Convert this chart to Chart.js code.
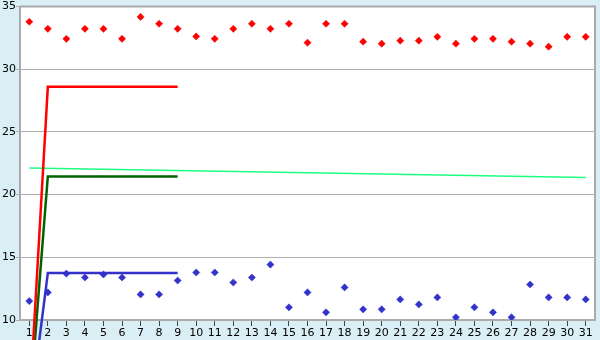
<!DOCTYPE html>
<html>
<head>
<meta charset="utf-8">
<script src="https://cdn.jsdelivr.net/npm/chart.js@4/dist/chart.umd.min.js"></script>
<style>
html,body{margin:0;padding:0;background:#d9eef5;}
#wrap{width:600px;height:340px;position:relative;}
</style>
</head>
<body>
<div id="wrap"><canvas id="c" width="600" height="340"></canvas></div>
<script>
// Days of the month (x categories)
const days = [1,2,3,4,5,6,7,8,9,10,11,12,13,14,15,16,17,18,19,20,21,22,23,24,25,26,27,28,29,30,31];
// Upper (red) point series
const redPoints = [33.79,33.23,32.43,33.23,33.23,32.43,34.18,33.63,33.23,32.62,32.43,33.23,33.63,33.23,33.63,32.12,33.63,33.63,32.2,32.04,32.28,32.28,32.59,32.04,32.43,32.43,32.2,32.04,31.8,32.59,32.59];
// Lower (blue) point series
const bluePoints = [11.51,12.2,13.7,13.39,13.63,13.39,12.04,12.04,13.15,13.79,13.79,12.99,13.39,14.42,11.01,12.2,10.61,12.6,10.85,10.85,11.64,11.24,11.8,10.21,11.01,10.61,10.21,12.83,11.8,11.8,11.64];
// Cumulative-style lines
const redLineX = [0.89, 2, 9];
const redLineY = [0, 28.6, 28.6];
const greenLineX = [0.86, 2, 9];
const greenLineY = [0, 21.45, 21.45];
const blueLineX = [0.82, 2, 9];
const blueLineY = [0, 13.75, 13.75];
// Trend line
const trendX = [1, 31];
const trendY = [22.12, 21.36];
// Axis ticks
const yTicks = [10, 15, 20, 25, 30, 35];

const toXY = (xs, ys) => xs.map((x, i) => ({x: x, y: ys[i]}));

const bgPlugin = {
  id: 'bg',
  beforeDraw(chart) {
    const ctx = chart.ctx, a = chart.chartArea;
    ctx.save();
    ctx.fillStyle = '#d9eef5';
    ctx.fillRect(0, 0, chart.width, chart.height);
    ctx.fillStyle = '#ffffff';
    ctx.fillRect(a.left, a.top, a.right - a.left, a.bottom - a.top);
    ctx.restore();
  },
  afterDraw(chart) {
    const ctx = chart.ctx, a = chart.chartArea;
    ctx.save();
    ctx.strokeStyle = '#aaaaaa';
    ctx.lineWidth = 2;
    ctx.beginPath();
    ctx.moveTo(a.left, a.top);
    ctx.lineTo(a.right, a.top);
    ctx.lineTo(a.right, a.bottom);
    ctx.stroke();
    ctx.restore();
  }
};

new Chart(document.getElementById('c'), {
  type: 'scatter',
  data: {
    datasets: [
      {data: toXY(redLineX, redLineY), showLine: true, borderColor: '#ff0000', borderWidth: 2.5, pointRadius: 0, clip: false, order: 1},
      {data: toXY(greenLineX, greenLineY), showLine: true, borderColor: '#006400', borderWidth: 2.5, pointRadius: 0, clip: false, order: 2},
      {data: toXY(blueLineX, blueLineY), showLine: true, borderColor: '#3333cc', borderWidth: 2.5, pointRadius: 0, clip: false, order: 3},
      {data: toXY(trendX, trendY), showLine: true, borderColor: '#1aff80', borderWidth: 1.5, pointRadius: 0, order: 4},
      {data: toXY(days, redPoints), showLine: false, pointStyle: 'rectRot', pointRadius: 3.6, backgroundColor: '#ff0000', borderColor: '#ff0000', borderWidth: 0.5, order: 5},
      {data: toXY(days, bluePoints), showLine: false, pointStyle: 'rectRot', pointRadius: 3.6, backgroundColor: '#3333cc', borderColor: '#3333cc', borderWidth: 0.5, order: 6}
    ]
  },
  options: {
    responsive: false,
    animation: false,
    events: [],
    layout: {padding: {top: 5, right: 5, left: 0, bottom: 0}},
    plugins: {legend: {display: false}, tooltip: {enabled: false}},
    scales: {
      x: {
        type: 'linear', min: 0.5, max: 31.5,
        afterBuildTicks(scale) { scale.ticks = days.map(v => ({value: v})); },
        afterFit(scale) { scale.height = 20; },
        grid: {drawOnChartArea: false, drawTicks: true, tickLength: 6, color: '#444444'},
        border: {display: true, color: '#aaaaaa', width: 2},
        ticks: {autoSkip: false, maxRotation: 0, padding: 1, color: '#000000', font: {family: 'DejaVu Sans', size: 11}}
      },
      y: {
        min: 10, max: 35,
        afterBuildTicks(scale) { scale.ticks = yTicks.map(v => ({value: v})); },
        afterFit(scale) { scale.width = 20; },
        grid: {drawOnChartArea: true, drawTicks: true, tickLength: 4, color: '#b0b0b0', lineWidth: 1},
        border: {display: true, color: '#aaaaaa', width: 2},
        ticks: {padding: 0, color: '#000000', font: {family: 'DejaVu Sans', size: 11}}
      }
    }
  },
  plugins: [bgPlugin]
});
</script>
</body>
</html>
